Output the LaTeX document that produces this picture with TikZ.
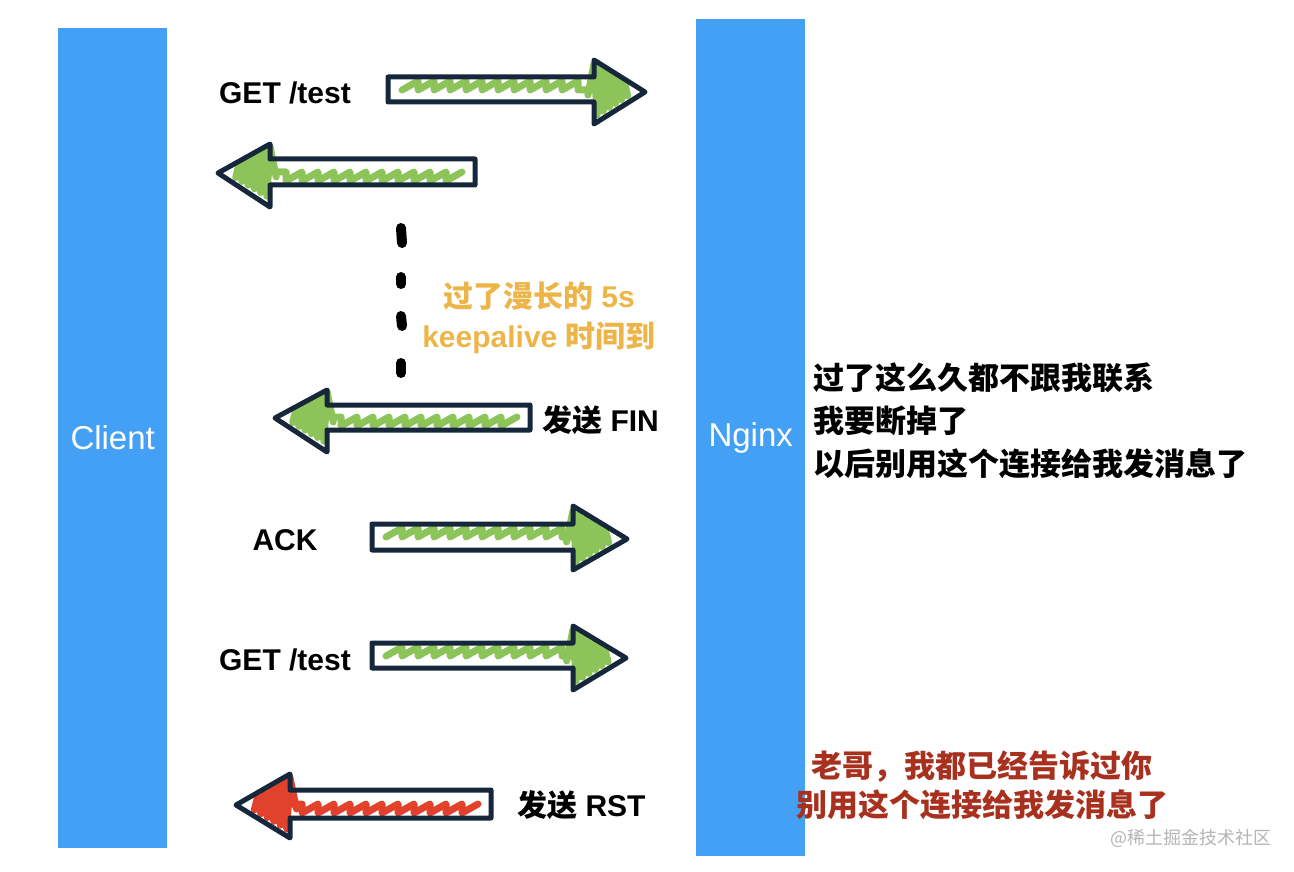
\documentclass[tikz,border=0pt]{standalone}
\usepackage{fontspec}
\setmainfont{Liberation Sans}
\newfontfamily\cjk{Noto Sans CJK SC}
\usetikzlibrary{decorations.pathmorphing}
\definecolor{barblue}{HTML}{44A0F4}
\definecolor{outl}{HTML}{16273B}
\definecolor{scgreen}{HTML}{8DC45A}
\definecolor{scred}{HTML}{E2412B}
\definecolor{waitorange}{HTML}{EDB548}
\definecolor{warnred}{HTML}{A8301F}
\definecolor{wmgray}{HTML}{B4B4B4}
\tikzset{
  bar/.style={fill=barblue, inner sep=0pt, minimum width=109pt, text=white,
    font=\fontsize{33}{36}\selectfont},
  outline/.style={draw=outl, line width=5pt, line join=round},
  scrib/.style={draw=#1, line width=7pt, line cap=round, line join=round},
  lbl/.style={font=\fontsize{30}{34}\selectfont\bfseries, inner sep=0pt},
  note/.style={font=\fontsize{31}{34}\selectfont\bfseries\cjk, inner sep=0pt, anchor=west},
  waitdot/.style={line width=10pt, line cap=round},
}
% block arrow outline: L T B H HT HB X Y
\newcommand\BlockArrow[8]{%
  \draw[outline] (#1,#2) -- (#4,#2) -- (#4,#5) -- (#7,#8) -- (#4,#6) -- (#4,#3) -- (#1,#3) -- cycle;}
% scribble fill: start, head base, yc, tip, head half height, colour
\newcommand\Scribble[6]{%
  \draw[scrib=#6, decorate, decoration={saw, segment length=16pt, amplitude=9pt}] (#1,#3) -- (#2,#3);
  \draw[scrib=#6] ({#2-(#4-#2)*0.12},{#3+5}) foreach \ww in {0,0.12,...,0.62} {
     -- ({#2+\ww*(#4-#2)},{#3-(0.82-\ww)*#5})
     -- ({#2+(\ww+0.06)*(#4-#2)},{#3+(0.78-\ww)*#5}) };}
\begin{document}
\begin{tikzpicture}[x=1pt,y=-1pt]
\useasboundingbox (0,0) rectangle (1294,872);
% lifelines
\node[bar, minimum height=820pt, anchor=north west] (client) at (58,28) {Client};
\node[bar, minimum height=837pt, anchor=north west] (nginx) at (696,19) {Nginx};

% arrow 1: GET /test
\Scribble{402}{594}{90}{645}{32}{scgreen}
\BlockArrow{388}{77}{102}{594}{60}{124}{645}{92}
\node[lbl] (get1) at (285,93) {GET /test};

% arrow 2: response
\Scribble{462}{270}{172}{218}{31}{scgreen}
\BlockArrow{475}{159}{185}{270}{144}{207}{218}{173}

% waiting dots
\draw[waitdot] (401,228) -- (402,243);
\draw[waitdot] (401,277) -- (401,284);
\draw[waitdot] (401,316) -- (402,326);
\draw[waitdot] (401,363) -- (401,373);
\node[lbl, text=waitorange] (wait1) at (539,296) {{\cjk 过了漫长的} 5s};
\node[lbl, text=waitorange] (wait2) at (539,338) {keepalive {\cjk 时间到}};

% arrow 3: FIN
\Scribble{517}{327}{417}{275}{31}{scgreen}
\BlockArrow{530}{405}{430}{327}{390}{452}{275}{418}
\node[lbl, anchor=west] (fin) at (542,420) {{\cjk 发送} FIN};

% arrow 4: ACK
\Scribble{386}{573}{537}{627}{32}{scgreen}
\BlockArrow{372}{524}{550}{573}{506}{570}{627}{539}
\node[lbl] (ack) at (285,540) {ACK};

% arrow 5: GET /test
\Scribble{386}{573}{656}{626}{32}{scgreen}
\BlockArrow{372}{643}{668}{573}{626}{690}{626}{658}
\node[lbl] (get2) at (285,660) {GET /test};

% arrow 6: RST
\Scribble{478}{290}{804}{236}{32}{scred}
\BlockArrow{491}{790}{818}{290}{774}{838}{236}{805}
\node[lbl, anchor=west] (rst) at (517,805) {{\cjk 发送} RST};

% nginx thoughts
\node[note] (t1) at (813,378) {过了这么久都不跟我联系};
\node[note] (t2) at (813,421) {我要断掉了};
\node[note] (t3) at (813,464) {以后别用这个连接给我发消息了};

% warning
\node[note, text=warnred] (w1) at (811,767) {老哥，我都已经告诉过你};
\node[note, text=warnred] (w2) at (796,805) {别用这个连接给我发消息了};

% watermark
\node[anchor=west, inner sep=0pt, text=wmgray, font=\fontsize{18}{20}\selectfont\cjk] (wm) at (1110,838) {@稀土掘金技术社区};
\end{tikzpicture}
\end{document}
